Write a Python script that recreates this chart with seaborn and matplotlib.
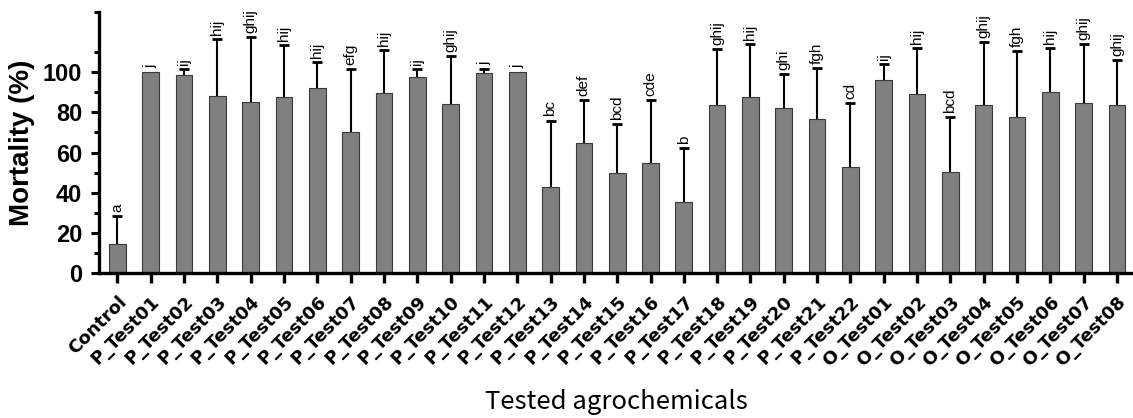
import matplotlib
matplotlib.use("Agg")
import matplotlib.pyplot as plt
import seaborn as sns
import pandas as pd
import numpy as np

categories = ["Control"] + [f"P_Test{i:02d}" for i in range(1, 23)] + [f"O_Test{i:02d}" for i in range(1, 9)]
mortality = [14.8, 100.0, 98.7, 88.2, 85.2, 87.7, 92.2, 70.1, 89.4, 97.7, 84.2, 99.5, 100.0,
             42.7, 64.8, 49.7, 54.6, 35.7, 83.7, 87.5, 82.2, 76.8, 53.0,
             96.2, 88.9, 50.3, 83.7, 77.9, 90.1, 84.7, 83.7]
err_top = [28.6, 100.0, 101.7, 116.5, 117.5, 113.3, 105.0, 101.7, 111.0, 101.7, 108.0, 101.3, 100.0,
           75.9, 85.9, 74.3, 86.1, 62.1, 111.3, 114.0, 98.9, 101.8, 84.5,
           104.0, 112.1, 77.6, 114.8, 110.5, 112.1, 114.0, 105.8]
letters = ["a", "j", "ij", "hij", "ghij", "hij", "hij", "efg", "hij", "ij", "ghij", "j", "j",
           "bc", "def", "bcd", "cde", "b", "ghij", "hij", "ghi", "fgh", "cd",
           "ij", "hij", "bcd", "ghij", "fgh", "hij", "ghij", "ghij"]

df = pd.DataFrame({"cat": categories, "mort": mortality, "top": err_top, "let": letters})

sns.set_style("ticks", {"axes.edgecolor": "black", "xtick.color": "black", "ytick.color": "black",
                        "text.color": "black", "axes.labelcolor": "black"})
plt.rcParams["font.family"] = ["Liberation Sans", "DejaVu Sans"]

fig = plt.figure(figsize=(11.33, 4.18), dpi=100)
ax = fig.add_axes([0.0874, 0.346, 0.9126, 0.626])

sns.barplot(data=df, x="cat", y="mort", color="#808080", saturation=1, width=0.5,
            edgecolor="#3a3a3a", linewidth=0.8, errorbar=None, ax=ax, zorder=2)

x = np.arange(len(df))
up = df["top"].values - df["mort"].values
mask = up > 0.01
ax.errorbar(x[mask], df["mort"].values[mask], yerr=[np.zeros(mask.sum()), up[mask]],
            fmt="none", ecolor="black", elinewidth=1.5, capsize=0, zorder=3)
ax.scatter(x[mask], df["top"].values[mask], marker="_", s=55, linewidths=2.0, color="black", zorder=4)

for xi, (t, l) in enumerate(zip(df["top"], df["let"])):
    ax.annotate(l, (xi, t), xytext=(0, 3), textcoords="offset points", rotation=90,
                ha="center", va="bottom", fontsize=11, family=["Liberation Sans", "DejaVu Sans"])

ax.set_xlim(-0.55, 30.48)
ax.set_ylim(0, 130)
ax.set_yticks([0, 20, 40, 60, 80, 100])
ax.set_yticks([10, 30, 50, 70, 90, 110, 130], minor=True)
ax.set_yticklabels(["0", "20", "40", "60", "80", "100"], fontsize=17, fontweight="bold")
ax.tick_params(axis="y", which="major", length=6, width=2.2, direction="out", pad=6)
ax.tick_params(axis="y", which="minor", length=3.5, width=2.2, direction="out")
ax.tick_params(axis="x", length=7, width=2.4, direction="out", pad=7)

ax.set_xticks(x)
ax.set_xticklabels(categories, rotation=45, ha="right", va="top", rotation_mode="anchor",
                   fontsize=13, fontweight="bold", family=["DejaVu Sans"])

for s in ["top", "right"]:
    ax.spines[s].set_visible(False)
for s in ["left", "bottom"]:
    ax.spines[s].set_linewidth(2.4)

ax.set_ylabel("Mortality (%)", fontsize=20, fontweight="bold", labelpad=6)
ax.set_xlabel("Tested agrochemicals", fontsize=18.5, fontweight="medium",
              family=["Noto Sans CJK KR", "DejaVu Sans"], labelpad=14)

fig.savefig("out.png", dpi=100)
